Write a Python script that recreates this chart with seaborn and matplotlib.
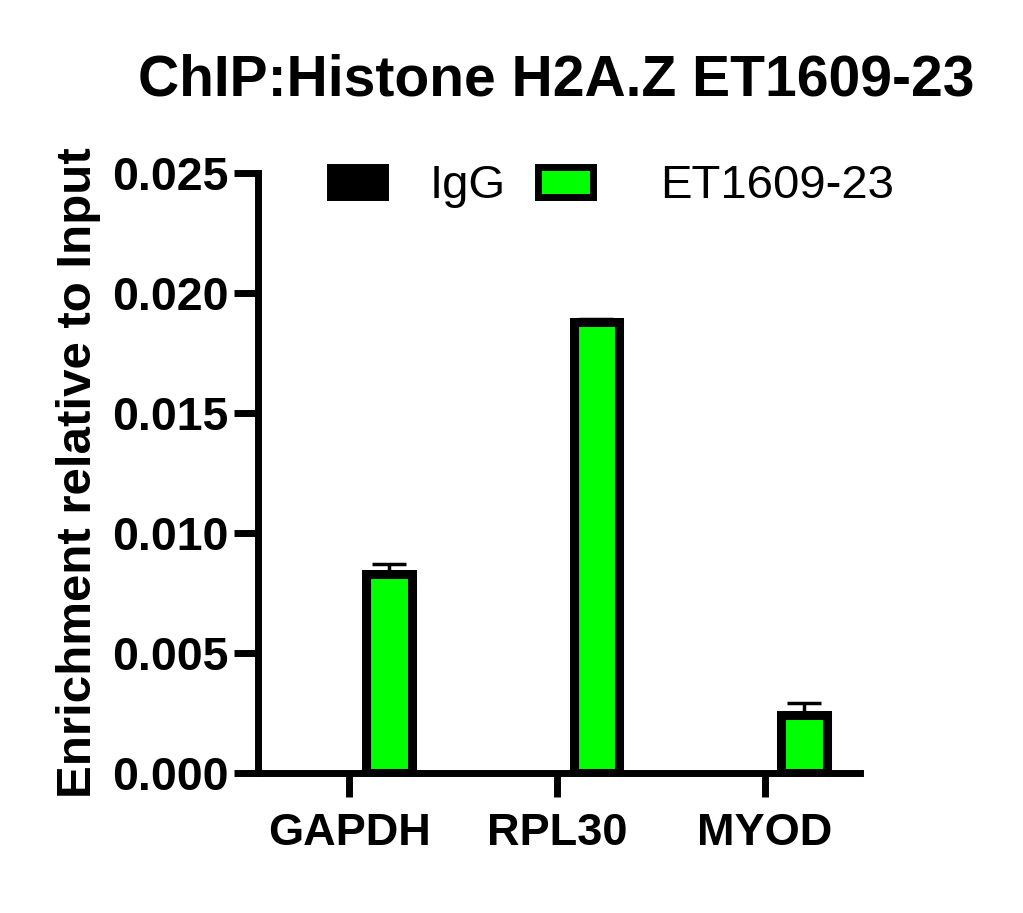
import matplotlib
matplotlib.use("Agg")
import matplotlib.pyplot as plt
from matplotlib.patches import Patch
import seaborn as sns
import pandas as pd
import numpy as np

genes = ["GAPDH", "RPL30", "MYOD"]
groups = ["IgG", "ET1609-23"]
igg_values = [0.0, 0.0, 0.0]
et_values = [0.0083, 0.0188, 0.0024]
et_errors = [0.0004, 0.0001, 0.0005]
yticks = [0.000, 0.005, 0.010, 0.015, 0.020, 0.025]
title = "ChIP:Histone H2A.Z ET1609-23"
ylabel = "Enrichment relative to Input"

sns.set_theme(style="ticks")
plt.rcParams["font.family"] = ["Liberation Sans", "DejaVu Sans"]
plt.rcParams["text.color"] = "black"
plt.rcParams["axes.labelcolor"] = "black"
plt.rcParams["xtick.color"] = "black"
plt.rcParams["ytick.color"] = "black"
plt.rcParams["axes.edgecolor"] = "black"

df = pd.DataFrame({
    "gene": genes * 2,
    "group": [groups[0]] * 3 + [groups[1]] * 3,
    "value": igg_values + et_values,
})

fig = plt.figure(figsize=(10.23, 9.13), dpi=100)
ax = fig.add_axes([0.2522, 0.1533, 0.8407 - 0.2522, 0.8105 - 0.1533])

palette = {"IgG": "#000000", "ET1609-23": "#00FF00"}
sns.barplot(data=df, x="gene", y="value", hue="group", order=genes,
            hue_order=groups, palette=palette, width=0.76, gap=0.42,
            saturation=1, edgecolor="black", linewidth=6.5, errorbar=None,
            ax=ax, legend=False, zorder=3)

for p in ax.patches[0:3]:
    p.set_linewidth(0)

# error bars (upper only) for the ET1609-23 series
et_patches = ax.patches[3:6]
for p, v, e in zip(et_patches, et_values, et_errors):
    cx = p.get_x() + p.get_width() / 2
    ax.errorbar([cx], [v], yerr=[[0], [e]], fmt="none", ecolor="black",
                elinewidth=2.5, capsize=12, capthick=2.5, zorder=2)

ax.set_xlim(-0.44, 2.46)
ax.set_ylim(0, 0.025)
ax.set_yticks(yticks)
ax.set_yticklabels([f"{t:.3f}" for t in yticks])
ax.set_xlabel("")
ax.set_ylabel(ylabel, fontsize=35.5, fontweight="bold", labelpad=8)
ax.set_title(title, fontsize=41, fontweight="bold", pad=56, x=0.495)

for s in ["top", "right"]:
    ax.spines[s].set_visible(False)
for s in ["left", "bottom"]:
    ax.spines[s].set_linewidth(5)
ax.tick_params(axis="both", width=5, length=17, labelsize=32.5, pad=4)
ax.tick_params(axis="y", labelsize=33.5)
for lbl in ax.get_xticklabels() + ax.get_yticklabels():
    lbl.set_fontweight("bold")
ax.tick_params(axis="x", pad=12)

colors = ["#000000", "#00FF00"]
anchors = [0.1196, 0.465]
textpads = [0.95, 1.42]
legs = []
for g, c, xa, tp in zip(groups, colors, anchors, textpads):
    h = Patch(facecolor=c, edgecolor="black", linewidth=5)
    leg = ax.legend([h], [g], frameon=False, fontsize=34, loc="center left",
                    bbox_to_anchor=(xa, 0.978), borderpad=0, borderaxespad=0,
                    handlelength=1.17, handleheight=0.6, handletextpad=tp)
    legs.append(leg)
for leg in legs[:-1]:
    ax.add_artist(leg)

fig.savefig("out.png", dpi=100)
